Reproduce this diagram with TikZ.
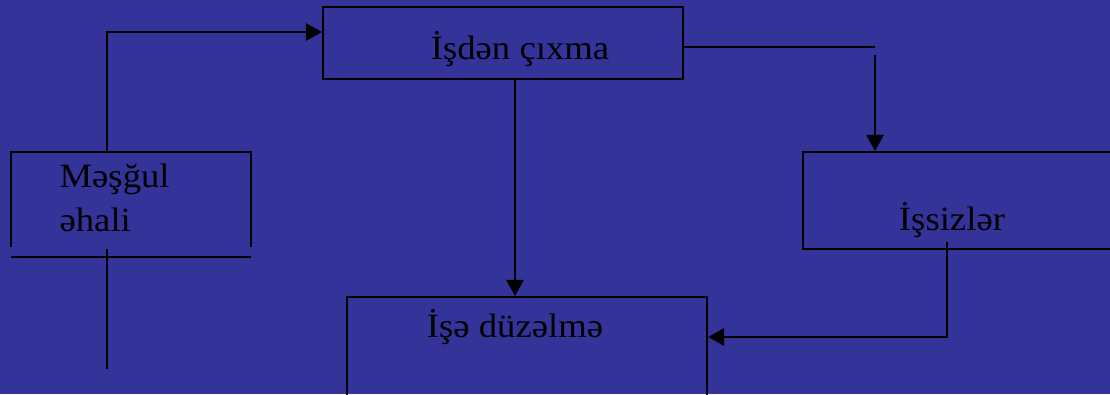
\documentclass[tikz,border=0pt]{standalone}
\usepackage{fontspec}
\setmainfont{Liberation Serif}
\usetikzlibrary{arrows.meta}

\tikzset{every picture/.style={line width=0.75pt}}
\tikzset{
  box/.style={draw=black, line width=1.7pt, inner sep=0pt},
  lbl/.style={inner sep=0pt, font=\fontsize{25.5}{30}\selectfont, xscale=1.08},
  arr/.style={draw=black, line width=1.7pt, -{Triangle[length=12pt,width=13pt]}},
  ln/.style={draw=black, line width=1.7pt}
}

\begin{document}
\begin{tikzpicture}[x=0.75pt,y=0.75pt,yscale=-1,xscale=1]
%Background
\fill [color={rgb, 255:red, 51; green, 51; blue, 153 }] (0,0) rectangle (1110,394) ;
\useasboundingbox (0,0) rectangle (1110,394) ;
\clip (0,0) rectangle (1110,394) ;

%Shape: Rectangle
\node [box, minimum width=270pt, minimum height=54pt] (cixma) at (503,43) {};
%Shape: Rectangle
\node [box, minimum width=245.25pt, minimum height=72.75pt] (issiz) at (966.5,200.5) {};
%Shape: Rectangle
\node [box, minimum width=270pt, minimum height=92.25pt] (duzelme) at (527,358.5) {};

%Shape: open box
\draw [ln]   (11,247) -- (11,152) -- (251,152) -- (251,247) ;
%Straight Lines
\draw [ln]   (11,257) -- (251,257) ;
%Straight Lines
\draw [ln]   (107,249) -- (107,369) ;

% Text Node
\node [lbl, anchor=base] (cixmatxt) at (520,59) {İşdən çıxma};
% Text Node
\node [lbl, anchor=base west] (mesgul) at (59,187) {Məşğul};
% Text Node
\node [lbl, anchor=base west] (ehali) at (59,231) {əhali};
% Text Node
\node [lbl, anchor=base] (issiztxt) at (952,230) {İşsizlər};
% Text Node
\node [lbl, anchor=base] (duztxt) at (515,337) {İşə düzəlmə};

\coordinate (mtop) at (107,152) ;
\coordinate (brk1) at (875,47) ;
\coordinate (brk2) at (875,55) ;
\coordinate (isdown) at (947,242) ;

%Straight Lines
\draw [arr]   (mtop) |- ([yshift=-8.25pt]cixma.west) ;
%Straight Lines
\draw [ln]   ([yshift=3pt]cixma.east) -- (brk1) ;
%Straight Lines
\draw [arr]   (brk2) -- (brk2 |- issiz.north) ;
%Straight Lines
\draw [arr]   (duztxt |- cixma.south) -- (duztxt |- duzelme.north) ;
%Straight Lines
\draw [arr]   (isdown) |- (duzelme.east |- duztxt.base) ;

\end{tikzpicture}
\end{document}
